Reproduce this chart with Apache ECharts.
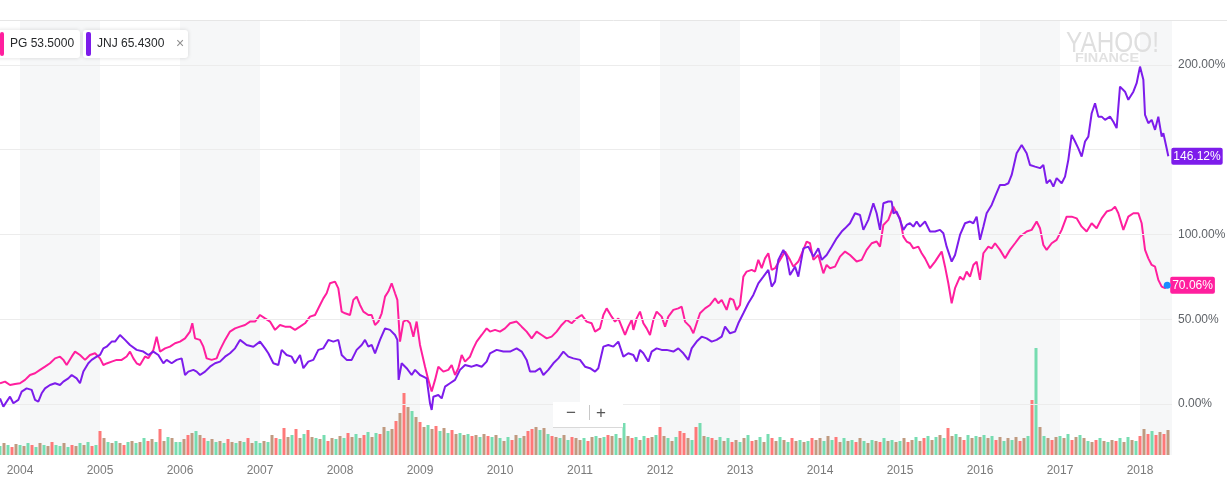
<!DOCTYPE html>
<html lang="en">
<head>
  <meta charset="UTF-8">
  <title>PG vs JNJ</title>
  <script src="https://cdn.jsdelivr.net/npm/echarts@6/dist/echarts.min.js"></script>
  <style>
    html, body { margin: 0; padding: 0; background: #fff; }
    #main { width: 1227px; height: 483px; }
  </style>
</head>
<body>
  <div id="main"></div>
  <script>
    var startYear = 2003.75;
    var endYear = 2018.4;
    var volStep = 0.05;   // one volume bar every ~2.5 weeks

    var yearTicks = [2004, 2005, 2006, 2007, 2008, 2009, 2010, 2011, 2012, 2013, 2014, 2015, 2016, 2017, 2018];
    var bandYears = [2004, 2006, 2008, 2010, 2012, 2014, 2016, 2018];
    var percentTicks = [0, 50, 100, 200];
    var gridValues = [0, 50, 100, 150, 200];

    // [decimal year, % change]
    var pgPoints = [
      [2003.750, 12.2], [2003.813, 13.2], [2003.875, 11.2], [2003.938, 11.8],
      [2004.000, 12.2], [2004.063, 14.2], [2004.125, 17.1], [2004.188, 18.1], [2004.250, 20.1], [2004.313, 22.0],
      [2004.375, 24.0], [2004.438, 26.9], [2004.500, 27.9], [2004.542, 26], [2004.583, 23], [2004.646, 27.9],
      [2004.688, 30.9], [2004.750, 28.9], [2004.813, 26], [2004.875, 28.9], [2004.938, 29.9],
      [2005.000, 26.9], [2005.042, 23], [2005.083, 23.9], [2005.146, 25], [2005.208, 26], [2005.271, 26],
      [2005.333, 28], [2005.375, 30.9], [2005.417, 26.9], [2005.458, 24], [2005.500, 23], [2005.563, 28],
      [2005.604, 27], [2005.667, 31.9], [2005.708, 39.7], [2005.750, 30.9], [2005.813, 32.8], [2005.875, 33.8],
      [2005.938, 35.8],
      [2006.000, 36.8], [2006.063, 38.7], [2006.125, 42.7], [2006.154, 47.6], [2006.188, 38.7], [2006.250, 37.8],
      [2006.292, 33.8], [2006.333, 26.9], [2006.396, 26], [2006.458, 26.9], [2006.500, 31.9], [2006.563, 37.8],
      [2006.625, 42.7], [2006.688, 44.6], [2006.750, 45.6], [2006.813, 46.6], [2006.875, 48.6], [2006.938, 48.6],
      [2007.000, 52.5], [2007.063, 50.5], [2007.125, 48.6], [2007.188, 43.7], [2007.250, 46.6], [2007.313, 45.6],
      [2007.375, 45.6], [2007.438, 43.7], [2007.500, 45.6], [2007.563, 47.6], [2007.625, 51.5], [2007.688, 52.5],
      [2007.750, 58.4], [2007.792, 62.3], [2007.833, 65.3], [2007.875, 71.2], [2007.938, 72.2], [2007.979, 68.2],
      [2008.021, 54.5], [2008.063, 53.5], [2008.125, 52.5], [2008.167, 61.4], [2008.208, 63.3], [2008.250, 58.4],
      [2008.292, 54.5], [2008.354, 52.5], [2008.396, 52.5], [2008.438, 46.6], [2008.479, 48.6], [2008.521, 53.5],
      [2008.563, 63.3], [2008.604, 66.3], [2008.646, 71.2], [2008.688, 65.3], [2008.717, 61.4], [2008.750, 36.8],
      [2008.792, 48.6], [2008.833, 49.6], [2008.875, 47.6], [2008.917, 39.7], [2008.958, 48.6],
      [2009.000, 34.8], [2009.063, 22], [2009.104, 14.2], [2009.146, 7.3], [2009.188, 14.2], [2009.229, 22],
      [2009.292, 19.1], [2009.354, 20.1], [2009.396, 23], [2009.438, 17.1], [2009.479, 21.1], [2009.521, 28.9],
      [2009.563, 25], [2009.625, 27.9], [2009.667, 32.8], [2009.708, 36.8], [2009.771, 40.7], [2009.833, 44.6],
      [2009.875, 42.7], [2009.938, 43.7],
      [2010.000, 42.7], [2010.063, 44.6], [2010.125, 47.6], [2010.208, 48.6], [2010.271, 45.6], [2010.333, 42.7],
      [2010.396, 38.7], [2010.458, 42.7], [2010.521, 40.7], [2010.583, 38.7], [2010.646, 39.7], [2010.708, 42.7],
      [2010.771, 46.6], [2010.833, 49.6], [2010.896, 47.6], [2010.958, 50.5],
      [2011.021, 52.5], [2011.083, 48.6], [2011.146, 47.6], [2011.188, 42.7], [2011.250, 44.6], [2011.292, 52.5],
      [2011.333, 56.4], [2011.396, 51.5], [2011.438, 48.6], [2011.479, 50.5], [2011.521, 45.6], [2011.563, 40.7],
      [2011.604, 45.6], [2011.646, 49.6], [2011.667, 43.7], [2011.708, 50.5], [2011.750, 54.5], [2011.792, 47.6],
      [2011.833, 44.6], [2011.875, 40.7], [2011.917, 49.6], [2011.958, 54.5],
      [2012.021, 51.5], [2012.063, 45.6], [2012.104, 51.5], [2012.167, 55.5], [2012.229, 56.4], [2012.271, 57.4],
      [2012.313, 48.6], [2012.375, 45.6], [2012.417, 41.7], [2012.458, 47.6], [2012.500, 53.5], [2012.563, 56.4],
      [2012.625, 58.4], [2012.688, 62.3], [2012.729, 59.4], [2012.771, 61.4], [2012.833, 55.5], [2012.875, 62.3],
      [2012.917, 61.4], [2012.958, 55.5],
      [2013.000, 58.4], [2013.042, 75.1], [2013.083, 78.1], [2013.146, 79.1], [2013.188, 78.1], [2013.229, 85],
      [2013.271, 80.1], [2013.313, 85.9], [2013.354, 88.9], [2013.396, 79.1], [2013.438, 80.1], [2013.500, 85],
      [2013.563, 89.9], [2013.625, 85], [2013.667, 81], [2013.729, 84], [2013.792, 90.9], [2013.833, 95.8],
      [2013.875, 94.8], [2013.917, 85], [2013.979, 87.9],
      [2014.042, 77.1], [2014.083, 82], [2014.125, 80.1], [2014.188, 81], [2014.250, 86.9], [2014.313, 89.9],
      [2014.375, 87.9], [2014.458, 84], [2014.521, 85], [2014.583, 90.9], [2014.646, 94.8], [2014.708, 95.8],
      [2014.750, 92.8], [2014.792, 105.6], [2014.854, 108.6], [2014.917, 116.4], [2014.958, 112.5],
      [2015.000, 109.5], [2015.042, 98.7], [2015.083, 95.8], [2015.125, 94.8], [2015.167, 91.8], [2015.229, 92.8],
      [2015.271, 88.9], [2015.313, 85.9], [2015.375, 80.1], [2015.438, 84], [2015.479, 86.9], [2015.521, 89.9],
      [2015.563, 81], [2015.604, 71.2], [2015.646, 59.4], [2015.688, 68.3], [2015.750, 75.1], [2015.792, 73.2],
      [2015.833, 78.1], [2015.875, 75.1], [2015.917, 82], [2015.958, 84],
      [2016.000, 73.2], [2016.042, 88.9], [2016.104, 92.8], [2016.146, 91.8], [2016.188, 94.8], [2016.250, 90.9],
      [2016.313, 85.9], [2016.375, 90.9], [2016.438, 94.8], [2016.500, 98.7], [2016.583, 101.7], [2016.646, 102.7],
      [2016.708, 107.6], [2016.750, 103.7], [2016.792, 93.8], [2016.833, 90.9], [2016.896, 94.8], [2016.958, 96.8],
      [2017.021, 102.7], [2017.083, 110.5], [2017.146, 110.5], [2017.208, 109.5], [2017.271, 104.6], [2017.333, 101.7],
      [2017.396, 106.6], [2017.458, 103.7], [2017.521, 109.5], [2017.583, 113.5], [2017.646, 114.5], [2017.688, 116.4],
      [2017.729, 112.5], [2017.792, 102.7], [2017.854, 110.5], [2017.917, 112.5], [2017.979, 112.5],
      [2018.021, 106.6], [2018.063, 90.9], [2018.104, 85.9], [2018.146, 82], [2018.188, 81], [2018.229, 73.2],
      [2018.271, 69.2], [2018.313, 68.3], [2018.340, 70.06]
    ];

    var jnjPoints = [
      [2003.750, 3.3], [2003.792, -1.6], [2003.833, 1.4], [2003.875, 4.3], [2003.917, 0.4], [2003.979, 2.4],
      [2004.021, 7.3], [2004.083, 9.2], [2004.146, 8.3], [2004.188, 2.4], [2004.229, 1.4], [2004.271, 6.3],
      [2004.313, 9.2], [2004.375, 11.2], [2004.438, 12.2], [2004.500, 11.2], [2004.542, 13.2], [2004.604, 15.1],
      [2004.646, 17.1], [2004.708, 15.1], [2004.750, 12.2], [2004.792, 19.1], [2004.854, 24], [2004.896, 26],
      [2004.958, 27.9],
      [2005.000, 28.9], [2005.042, 32.8], [2005.083, 33.8], [2005.146, 36.8], [2005.188, 36.8], [2005.250, 40.7],
      [2005.313, 37.8], [2005.375, 34.8], [2005.458, 31.9], [2005.542, 30.9], [2005.604, 28.9], [2005.667, 30.9],
      [2005.729, 28.9], [2005.792, 24], [2005.833, 26], [2005.896, 24], [2005.958, 26],
      [2006.021, 26.9], [2006.063, 17.1], [2006.104, 19.1], [2006.167, 20.1], [2006.208, 19.1], [2006.250, 17.1],
      [2006.313, 19.1], [2006.375, 22], [2006.438, 24], [2006.500, 25], [2006.563, 27.9], [2006.625, 29.9],
      [2006.688, 32.8], [2006.750, 37.8], [2006.771, 38.7], [2006.833, 34.8], [2006.917, 33.8],
      [2007.000, 36.8], [2007.063, 32.8], [2007.104, 29.9], [2007.167, 24], [2007.229, 23], [2007.271, 31.9],
      [2007.333, 28.9], [2007.396, 27.9], [2007.438, 24], [2007.500, 28.9], [2007.542, 21.1], [2007.604, 25],
      [2007.667, 26], [2007.729, 31.9], [2007.792, 32.8], [2007.854, 37.8], [2007.917, 36.8], [2007.979, 37.8],
      [2008.021, 28.9], [2008.083, 26], [2008.146, 26], [2008.208, 31.9], [2008.271, 34.8], [2008.313, 37.8],
      [2008.354, 33.8], [2008.396, 34.8], [2008.438, 29.9], [2008.500, 37.8], [2008.563, 44.6], [2008.625, 43.7],
      [2008.688, 40.7], [2008.717, 37.8], [2008.733, 14.2], [2008.771, 24], [2008.833, 21.1], [2008.896, 17.1],
      [2008.938, 20.1],
      [2009.000, 17.1], [2009.042, 16.1], [2009.083, 15.1], [2009.125, 0.4], [2009.146, -3.5], [2009.167, 4.3],
      [2009.229, 5.3], [2009.271, 3.3], [2009.313, 10.2], [2009.375, 12.2], [2009.438, 14.2], [2009.500, 20.1],
      [2009.563, 23], [2009.646, 22], [2009.708, 23], [2009.771, 22], [2009.833, 25], [2009.875, 29.9],
      [2009.958, 31.9],
      [2010.042, 30.9], [2010.125, 30.9], [2010.208, 32.8], [2010.271, 30.9], [2010.333, 26], [2010.375, 19.1],
      [2010.438, 19.1], [2010.500, 21.1], [2010.542, 17.1], [2010.604, 20.1], [2010.667, 24], [2010.729, 26.9],
      [2010.792, 30.9], [2010.854, 27.9], [2010.917, 26.9],
      [2011.000, 26], [2011.063, 22], [2011.125, 21.1], [2011.188, 19.1], [2011.229, 21.1], [2011.292, 33.8],
      [2011.354, 34.8], [2011.417, 33.8], [2011.479, 36.8], [2011.542, 27.9], [2011.604, 29.9], [2011.667, 28.9],
      [2011.708, 25], [2011.750, 31.9], [2011.792, 29.9], [2011.854, 25], [2011.896, 30.9], [2011.958, 32.8],
      [2012.021, 31.9], [2012.083, 31.9], [2012.167, 30.9], [2012.229, 32.8], [2012.292, 29.9], [2012.354, 26],
      [2012.396, 32.8], [2012.458, 36.8], [2012.521, 39.7], [2012.583, 38.7], [2012.646, 36.8], [2012.708, 37.8],
      [2012.771, 39.7], [2012.813, 45.6], [2012.875, 41.7], [2012.938, 42.7], [2012.979, 47.6],
      [2013.042, 53.5], [2013.104, 59.4], [2013.167, 64.3], [2013.229, 71.2], [2013.292, 75.1], [2013.354, 79.1],
      [2013.396, 69.2], [2013.438, 72.2], [2013.479, 85], [2013.542, 90.9], [2013.583, 86.9], [2013.625, 76.1],
      [2013.688, 81], [2013.729, 75.1], [2013.792, 91.8], [2013.854, 92.8], [2013.917, 86.9], [2013.979, 91.8],
      [2014.021, 85], [2014.083, 87.9], [2014.146, 92.8], [2014.208, 97.7], [2014.271, 101.7], [2014.313, 103.6],
      [2014.375, 106.6], [2014.438, 112.5], [2014.500, 111.5], [2014.542, 102.7], [2014.604, 108.6], [2014.667, 118.4],
      [2014.708, 112.5], [2014.750, 102.7], [2014.792, 118.4], [2014.854, 119.4], [2014.896, 119.4], [2014.917, 112.5],
      [2014.958, 113.5],
      [2015.000, 108.6], [2015.042, 102.7], [2015.083, 105.6], [2015.125, 106.6], [2015.167, 104.6], [2015.208, 107.6],
      [2015.250, 104.6], [2015.313, 107.6], [2015.375, 101.7], [2015.438, 101.7], [2015.500, 102.7], [2015.542, 100.7],
      [2015.583, 92.8], [2015.625, 86.9], [2015.646, 84], [2015.688, 87.9], [2015.750, 99.7], [2015.813, 106.6],
      [2015.875, 107.6], [2015.917, 106.6], [2015.958, 110.5],
      [2016.000, 96.8], [2016.042, 104.6], [2016.083, 112.5], [2016.146, 117.4], [2016.188, 122.3], [2016.250, 129.2],
      [2016.313, 129.2], [2016.354, 130.2], [2016.396, 135.1], [2016.458, 147.9], [2016.521, 152.8], [2016.583, 147.9],
      [2016.625, 141], [2016.688, 140], [2016.750, 139.1], [2016.792, 141], [2016.833, 130.2], [2016.875, 132.2],
      [2016.917, 128.2], [2016.958, 133.2],
      [2017.021, 130.2], [2017.063, 134.1], [2017.104, 144], [2017.146, 158.7], [2017.188, 154.8], [2017.229, 150.8],
      [2017.271, 145.9], [2017.313, 154.8], [2017.354, 157.7], [2017.396, 171.5], [2017.438, 177.4], [2017.479, 169.5],
      [2017.521, 169.5], [2017.563, 167.6], [2017.625, 169.5], [2017.667, 166.5], [2017.708, 162.7], [2017.750, 187.2],
      [2017.813, 184.2], [2017.854, 179.4], [2017.917, 184.2], [2017.958, 189.2],
      [2018.000, 199], [2018.042, 191.2], [2018.063, 170.5], [2018.104, 165.6], [2018.146, 167.6], [2018.188, 161.7],
      [2018.229, 169.5], [2018.271, 157.7], [2018.292, 159.7], [2018.333, 150.8], [2018.354, 146.12]
    ];

    // volume bar heights, one list per calendar year
    var volumeValues = [].concat(
      [9, 12, 10, 8, 11],
      [10, 9, 12, 10, 8, 12, 10, 9, 13, 10, 9, 12, 8, 10, 9, 12, 10, 13, 9, 10],
      [24, 17, 13, 12, 14, 12, 10, 13, 14, 12, 13, 17, 14, 16, 13, 26, 14, 18, 17, 13],
      [13, 16, 20, 22, 24, 20, 17, 14, 16, 13, 14, 12, 16, 13, 12, 14, 13, 17, 12, 14],
      [12, 14, 13, 20, 17, 16, 27, 18, 20, 26, 17, 21, 25, 18, 17, 16, 20, 14, 17, 16],
      [19, 17, 22, 18, 21, 17, 20, 23, 18, 22, 21, 28, 24, 26, 34, 42, 62, 48, 44, 38],
      [33, 28, 30, 26, 29, 24, 27, 22, 25, 21, 22, 20, 21, 19, 20, 18, 21, 19, 18, 20],
      [17, 14, 18, 15, 20, 17, 19, 24, 26, 28, 25, 27, 21, 19, 18, 17, 20, 15, 18, 17],
      [15, 17, 14, 18, 19, 17, 18, 20, 19, 21, 17, 32, 19, 17, 18, 15, 19, 17, 18, 20],
      [28, 19, 17, 14, 18, 24, 22, 17, 15, 28, 32, 19, 18, 17, 15, 18, 14, 17, 13, 15],
      [13, 17, 20, 14, 15, 18, 13, 21, 17, 14, 18, 15, 13, 17, 14, 15, 13, 14, 17, 15],
      [17, 14, 19, 15, 18, 13, 17, 14, 15, 13, 17, 14, 12, 15, 14, 13, 17, 14, 15, 13],
      [14, 17, 13, 15, 18, 14, 17, 19, 15, 18, 20, 17, 27, 19, 21, 18, 15, 20, 17, 19],
      [18, 20, 17, 19, 15, 18, 14, 17, 15, 18, 14, 17, 19, 55, 107, 28, 19, 17, 15, 18],
      [19, 17, 21, 15, 18, 20, 17, 14, 13, 15, 17, 14, 13, 15, 14, 17, 13, 18, 15, 14],
      [19, 26, 21, 24, 20, 23, 21, 25]
    );

    // r = down, g = up, b = both tickers overlapping
    var volumeFlags = [
      'gbgrb',
      'gbgrgbgbrggbgrbgbgrg',
      'rbgbgbrgbgbgrbgrbgbg',
      'gbrbgbrgbgbgrbgbgrbg',
      'gbgbrgrbgrbgrbgbgrbg',
      'bgrbgbrgbgrbgbrbrbgb',
      'rbgbrgbgrbgbgrbgbrgb',
      'gbgrbgbrrbgbgrbgbgrb',
      'bgrbgbgrbgbgbrgbgrbg',
      'rbgbgrrbgrgbgrbgbgrb',
      'gbgrbgbgrbgbgrbgbgrb',
      'bgbgrbgbgrbgbgbrgbgb',
      'gbrbgbrgbgbgrbgbrgbg',
      'bgbgrbgbgbrbgrgbgbrb',
      'gbgrbgbgbrgbgbrgbgbg',
      'rbrgrbrb'
    ].join('');

    var PG_COLOR = '#ff1f9e';
    var JNJ_COLOR = '#7d1ceb';
    var volColors = { r: '#ff6262', g: '#5fd7a3', b: '#b58a6b' };
    var FONT = '"Liberation Sans", Arial, Helvetica, sans-serif';

    var volData = volumeValues.map(function (v, i) { return [startYear + i * volStep, v]; });

    var bands = bandYears.map(function (y) {
      return [{ xAxis: y }, { xAxis: Math.min(y + 1, endYear) }];
    });

    function endLabel(color) {
      return {
        show: true,
        formatter: function (p) { return p.value[1].toFixed(2) + '%'; },
        backgroundColor: color, color: '#fff',
        fontSize: 12, fontFamily: FONT,
        padding: [3, 2, 2, 2], borderRadius: 2, distance: 3
      };
    }

    var myChart = echarts.init(document.getElementById('main'));

    var option = {
      animation: false,
      backgroundColor: '#fff',
      grid: [
        { left: 0, right: 55, top: 20, bottom: 28, outerBoundsMode: 'none' },
        { left: 0, right: 55, top: 345, bottom: 28, outerBoundsMode: 'none' }
      ],
      xAxis: [
        {
          type: 'value', gridIndex: 0, min: startYear, max: endYear,
          axisLine: { show: false }, axisTick: { show: false }, splitLine: { show: false },
          axisLabel: {
            customValues: yearTicks,
            formatter: function (v) { return String(v); },
            color: '#7a7a7a', fontSize: 12, fontFamily: FONT, margin: 10
          }
        },
        { type: 'value', gridIndex: 1, min: startYear, max: endYear, show: false }
      ],
      yAxis: [
        {
          type: 'value', gridIndex: 0, position: 'right', min: -30.1, max: 226.5,
          axisLine: { show: false }, axisTick: { show: false }, splitLine: { show: false },
          axisLabel: {
            customValues: percentTicks,
            formatter: function (v) { return v.toFixed(2) + '%'; },
            color: '#5f6368', fontSize: 12, fontFamily: FONT, margin: 6
          }
        },
        { type: 'value', gridIndex: 1, min: 0, max: 110, show: false }
      ],
      graphic: [
        { type: 'line', silent: true, z: 3, shape: { x1: 0, y1: 20.5, x2: 1227, y2: 20.5 }, style: { stroke: '#e6e6e6', lineWidth: 1 } },
        // watermark
        { type: 'text', x: 1066, y: 29, scaleX: 0.84, silent: true, z: 3,
          style: { text: 'YAHOO!', fill: '#dfdfdf', font: '29px ' + FONT, verticalAlign: 'top' } },
        { type: 'text', x: 1075, y: 53, scaleX: 1.2, silent: true, z: 3,
          style: { text: 'FINANCE', fill: '#e2e2e2', font: 'bold 12px ' + FONT, verticalAlign: 'top' } },
        // legend chips
        { type: 'rect', shape: { x: -4, y: 30, width: 84, height: 28, r: 3 },
          style: { fill: '#fff', shadowBlur: 4, shadowColor: 'rgba(0,0,0,0.14)' }, z: 10 },
        { type: 'rect', shape: { x: 0, y: 32, width: 4, height: 24, r: 2 }, style: { fill: PG_COLOR }, z: 11 },
        { type: 'text', x: 10, y: 44, z: 11,
          style: { text: 'PG 53.5000', fill: '#26282a', font: '12px ' + FONT, verticalAlign: 'middle' } },
        { type: 'rect', shape: { x: 83, y: 30, width: 105, height: 28, r: 3 },
          style: { fill: '#fff', shadowBlur: 4, shadowColor: 'rgba(0,0,0,0.14)' }, z: 10 },
        { type: 'rect', shape: { x: 86, y: 32, width: 5, height: 24, r: 2 }, style: { fill: JNJ_COLOR }, z: 11 },
        { type: 'text', x: 97, y: 44, z: 11,
          style: { text: 'JNJ 65.4300', fill: '#26282a', font: '12px ' + FONT, verticalAlign: 'middle' } },
        { type: 'text', x: 176, y: 44, z: 11,
          style: { text: '×', fill: '#8f8f8f', font: '14px ' + FONT, verticalAlign: 'middle' } },
        // zoom control
        { type: 'rect', shape: { x: 553, y: 402, width: 70, height: 25 }, style: { fill: '#fff' }, z: 10 },
        { type: 'line', shape: { x1: 553, y1: 427.5, x2: 623, y2: 427.5 }, style: { stroke: '#d9d9d9', lineWidth: 1 }, z: 11 },
        { type: 'line', shape: { x1: 589.5, y1: 405, x2: 589.5, y2: 420 }, style: { stroke: '#c8c8c8', lineWidth: 1 }, z: 11 },
        { type: 'text', x: 571, y: 413, z: 11,
          style: { text: '−', fill: '#555', font: '17px ' + FONT, align: 'center', verticalAlign: 'middle' } },
        { type: 'text', x: 601, y: 413, z: 11,
          style: { text: '+', fill: '#555', font: '17px ' + FONT, align: 'center', verticalAlign: 'middle' } }
      ],
      series: [
        {
          name: 'bands',
          type: 'line',
          xAxisIndex: 0, yAxisIndex: 0,
          data: pgPoints,
          symbol: 'none',
          silent: true,
          z: 1,
          lineStyle: { opacity: 0 },
          markArea: {
            silent: true,
            itemStyle: { color: '#f6f7f8' },
            data: bands
          },
          markLine: {
            silent: true,
            symbol: ['none', 'none'],
            label: { show: false },
            lineStyle: { color: '#ececec', width: 1, type: 'solid' },
            data: gridValues.map(function (v) { return { yAxis: v }; })
          }
        },
        {
          name: 'volume',
          type: 'bar',
          xAxisIndex: 1, yAxisIndex: 1,
          data: volData,
          barWidth: 3,
          silent: true,
          z: 2,
          itemStyle: {
            color: function (p) { return volColors[volumeFlags.charAt(p.dataIndex)] || volColors.b; },
            opacity: 0.85
          }
        },
        {
          name: 'PG',
          type: 'line',
          xAxisIndex: 0, yAxisIndex: 0,
          data: pgPoints,
          symbol: 'none',
          z: 4,
          color: PG_COLOR,
          lineStyle: { color: PG_COLOR, width: 2 },
          endLabel: endLabel(PG_COLOR),
          markPoint: {
            silent: true,
            symbol: 'circle',
            symbolSize: 7,
            itemStyle: { color: '#1a8cff' },
            label: { show: false },
            data: [{ coord: pgPoints[pgPoints.length - 1] }]
          }
        },
        {
          name: 'JNJ',
          type: 'line',
          xAxisIndex: 0, yAxisIndex: 0,
          data: jnjPoints,
          symbol: 'none',
          z: 5,
          color: JNJ_COLOR,
          lineStyle: { color: JNJ_COLOR, width: 2 },
          endLabel: endLabel(JNJ_COLOR)
        }
      ]
    };

    myChart.setOption(option);
  </script>
</body>
</html>
